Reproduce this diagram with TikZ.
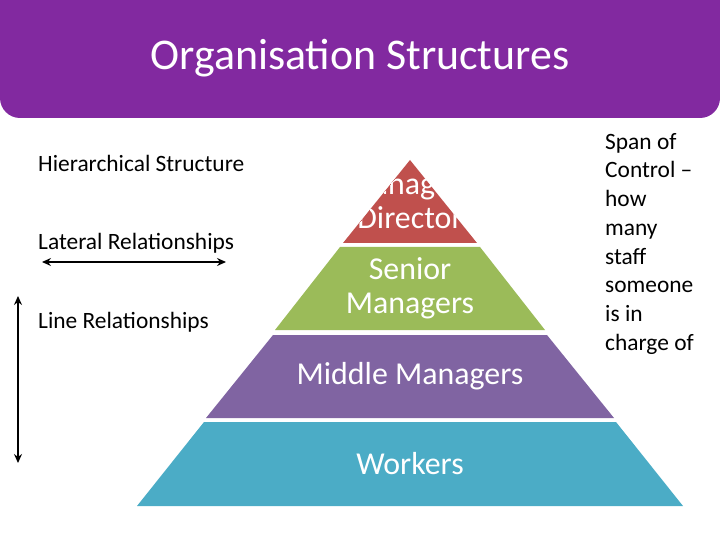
\documentclass[tikz,border=0pt]{standalone}
\usepackage{fontspec}
\setmainfont{Carlito}
\usetikzlibrary{arrows.meta}
\definecolor{hdr}{HTML}{8229A0}
\definecolor{lred}{HTML}{C0504D}
\definecolor{lgreen}{HTML}{9BBB59}
\definecolor{lpurp}{HTML}{8064A2}
\definecolor{lblue}{HTML}{4BACC6}
\tikzset{
  lbl/.style={anchor=west,font=\fontsize{23.5}{28}\selectfont,inner sep=0pt},
  ptxt/.style={text=white,font=\fontsize{32}{34}\selectfont,align=center},
  arr/.style={{Stealth[length=9pt,width=8pt]}-{Stealth[length=9pt,width=8pt]},line width=1.6pt}
}
\begin{document}
\begin{tikzpicture}[x=1bp,y=-1bp]
\useasboundingbox (0,0) rectangle (720,540);
\fill[hdr,rounded corners=20bp] (0,-40) -- (720,-40) -- (720,118) -- (0,118) -- cycle;
\node[text=white,font=\fontsize{44}{48}\selectfont] (title) at (360,58) {Organisation Structures};
% pyramid
\fill[lred] (410,160) -- (477,243) -- (343,243) -- cycle;
\fill[lgreen] (340,247) -- (480,247) -- (545,330) -- (275,330) -- cycle;
\fill[lpurp] (273,335) -- (547,335) -- (614,418) -- (206,418) -- cycle;
\fill[lblue] (204,422) -- (616,422) -- (683,506) -- (137,506) -- cycle;
\begin{scope}
\clip (410,160) -- (477,243) -- (343,243) -- cycle;
\node[ptxt] (md) at (410,201) {Managing\\Director};
\end{scope}
\node[ptxt] (sm) at (410,288) {Senior\\Managers};
\node[ptxt] (mm) at (410,376) {Middle Managers};
\node[ptxt] (wk) at (410,464) {Workers};
% left labels
\node[lbl] (hs) at (38,163) {Hierarchical Structure};
\node[lbl] (lr) at (38,243) {Lateral Relationships};
\node[lbl] (lnr) at (38,322) {Line Relationships};
\coordinate (h1) at (42,262); \coordinate (h2) at (226,262);
\draw[arr] (h1) -- (h2);
\coordinate (v1) at (18,296); \coordinate (v2) at (18,463);
\draw[arr] (v1) -- (v2);
% right text
\node[anchor=north west,align=left,inner sep=0pt,font=\fontsize{23.5}{28.8}\selectfont] (span) at (605,133) {Span of\\Control –\\how\\many\\staff\\someone\\is in\\charge of};
\end{tikzpicture}
\end{document}
